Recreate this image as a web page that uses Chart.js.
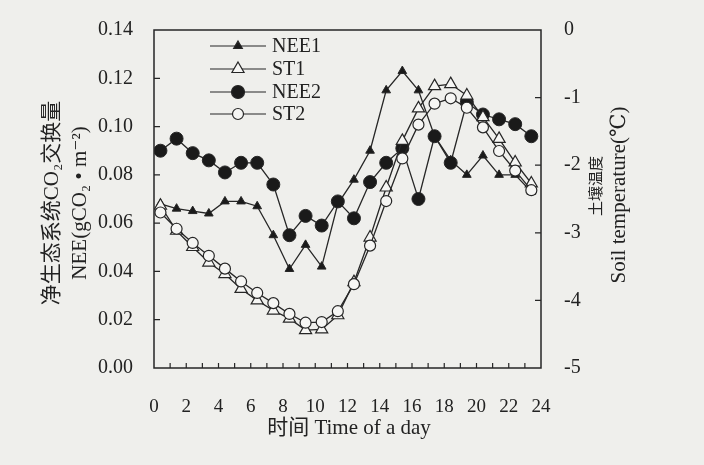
<!DOCTYPE html>
<html>
<head>
<meta charset="utf-8">
<script src="https://cdn.jsdelivr.net/npm/chart.js@4.4.0/dist/chart.umd.min.js"></script>
<style>
  body { margin: 0; background: #efefec; }
  #grafico { display: block; }
</style>
</head>
<body>
<canvas id="grafico" width="704" height="465"></canvas>
<script>
// Horários das medições (meia hora de cada intervalo)
var horas = [0.4, 1.4, 2.4, 3.4, 4.4, 5.4, 6.4, 7.4, 8.4, 9.4, 10.4, 11.4,
  12.4, 13.4, 14.4, 15.4, 16.4, 17.4, 18.4, 19.4, 20.4, 21.4, 22.4, 23.4];

// Séries
var nee1 = [0.068, 0.066, 0.065, 0.064, 0.069, 0.069, 0.067, 0.055, 0.041, 0.051, 0.042, 0.068,
  0.078, 0.090, 0.115, 0.123, 0.115, 0.096, 0.086, 0.080, 0.088, 0.080, 0.080, 0.073];
var st1 = [-2.60, -2.97, -3.21, -3.44, -3.61, -3.83, -4.00, -4.15, -4.27, -4.44, -4.43, -4.22,
  -3.73, -3.07, -2.33, -1.64, -1.16, -0.83, -0.80, -0.97, -1.29, -1.61, -1.96, -2.27];
var nee2 = [0.090, 0.095, 0.089, 0.086, 0.081, 0.085, 0.085, 0.076, 0.055, 0.063, 0.059, 0.069,
  0.062, 0.077, 0.085, 0.091, 0.070, 0.096, 0.085, 0.110, 0.105, 0.103, 0.101, 0.096];
var st2 = [-2.70, -2.94, -3.15, -3.34, -3.53, -3.72, -3.89, -4.04, -4.20, -4.33, -4.32, -4.16,
  -3.76, -3.19, -2.53, -1.90, -1.40, -1.09, -1.01, -1.15, -1.44, -1.79, -2.08, -2.37];

// Rótulos dos eixos
var ticksX = [0, 2, 4, 6, 8, 10, 12, 14, 16, 18, 20, 22, 24];
var ticksNEE = [0, 0.02, 0.04, 0.06, 0.08, 0.10, 0.12, 0.14];
var ticksTemp = [-5, -4, -3, -2, -1, 0];

var corLinha = "#262626";
var corFundo = "#f6f6f4";
var fonteSerif = '"Liberation Serif", "DejaVu Serif", "Noto Sans CJK SC", serif';

// Junta horas e valores em pontos {x, y}
function montarPontos(valores) {
  return horas.map(function (h, i) {
    return { x: h, y: valores[i] };
  });
}

function fixarTicks(lista) {
  return function (scale) {
    scale.ticks = lista.map(function (v) { return { value: v }; });
  };
}

// Legenda da série (usada no plugin)
var legenda = [
  { texto: "NEE1", estilo: "triangle", raio: 5, cor: "#1a1a1a" },
  { texto: "ST1", estilo: "triangle", raio: 7, cor: corFundo },
  { texto: "NEE2", estilo: "circle", raio: 6.5, cor: "#1a1a1a" },
  { texto: "ST2", estilo: "circle", raio: 5.5, cor: corFundo },
];

// Plugin para moldura, marcas internas, títulos e legenda
var pluginMoldura = {
  id: "moldura",
  afterDraw: function (chart) {
    var ctx = chart.ctx;
    var area = chart.chartArea;
    var sx = chart.scales.x;
    var sy = chart.scales.y;
    var sy1 = chart.scales.y1;

    ctx.save();
    ctx.strokeStyle = corLinha;
    ctx.lineWidth = 1.5;
    ctx.strokeRect(area.left, area.top, area.right - area.left, area.bottom - area.top);

    // marcas do eixo x, de hora em hora
    ctx.lineWidth = 1.2;
    ctx.beginPath();
    for (var h = 1; h < 24; h++) {
      var px = sx.getPixelForValue(h);
      ctx.moveTo(px, area.bottom);
      ctx.lineTo(px, area.bottom - 5);
    }
    for (var i = 1; i < ticksNEE.length - 1; i++) {
      var py = sy.getPixelForValue(ticksNEE[i]);
      ctx.moveTo(area.left, py);
      ctx.lineTo(area.left + 6, py);
    }
    for (var j = 1; j < ticksTemp.length - 1; j++) {
      var py1 = sy1.getPixelForValue(ticksTemp[j]);
      ctx.moveTo(area.right, py1);
      ctx.lineTo(area.right - 6, py1);
    }
    ctx.stroke();

    // títulos dos eixos
    ctx.fillStyle = "#222";
    ctx.textAlign = "center";
    ctx.textBaseline = "middle";
    ctx.font = "21px " + fonteSerif;
    ctx.fillText("时间 Time of a day", 349, 428);

    ctx.save();
    ctx.translate(52, 203);
    ctx.rotate(-Math.PI / 2);
    ctx.font = "21px " + fonteSerif;
    ctx.fillText("净生态系统CO₂交换量", 0, 0);
    ctx.restore();

    ctx.save();
    ctx.translate(80, 203);
    ctx.rotate(-Math.PI / 2);
    ctx.font = "21px " + fonteSerif;
    ctx.fillText("NEE(gCO₂ • m⁻²)", 0, 0);
    ctx.restore();

    ctx.save();
    ctx.translate(597, 186);
    ctx.rotate(-Math.PI / 2);
    ctx.font = "15px " + fonteSerif;
    ctx.fillText("土壤温度", 0, 0);
    ctx.restore();

    ctx.save();
    ctx.translate(619, 195);
    ctx.rotate(-Math.PI / 2);
    ctx.font = "21px " + fonteSerif;
    ctx.fillText("Soil temperature(℃)", 0, 0);
    ctx.restore();

    // legenda dentro do gráfico
    var linhaY = [46, 69, 92, 114];
    ctx.textAlign = "left";
    ctx.font = "20px " + fonteSerif;
    legenda.forEach(function (item, k) {
      var y = linhaY[k];
      ctx.strokeStyle = corLinha;
      ctx.lineWidth = 1.2;
      ctx.beginPath();
      ctx.moveTo(210, y);
      ctx.lineTo(266, y);
      ctx.stroke();
      ctx.fillStyle = item.cor;
      ctx.strokeStyle = corLinha;
      Chart.helpers.drawPoint(ctx, {
        pointStyle: item.estilo,
        radius: item.raio,
        rotation: 0,
        borderWidth: 1.2,
      }, 238, y);
      ctx.fillStyle = "#222";
      ctx.fillText(item.texto, 272, y + 1);
    });
    ctx.restore();
  },
};

function criarGrafico() {
  var ctx = document.getElementById("grafico").getContext("2d");
  var grafico = new Chart(ctx, {
    type: "line",
    data: {
      datasets: [
        {
          label: "NEE1",
          data: montarPontos(nee1),
          yAxisID: "y",
          order: 3,
          borderColor: corLinha,
          borderWidth: 1.3,
          pointStyle: "triangle",
          pointRadius: 5,
          pointBackgroundColor: "#1a1a1a",
          pointBorderColor: corLinha,
          pointBorderWidth: 1,
        },
        {
          label: "ST1",
          data: montarPontos(st1),
          yAxisID: "y1",
          order: 1,
          borderColor: corLinha,
          borderWidth: 1.3,
          pointStyle: "triangle",
          pointRadius: 7,
          pointBackgroundColor: corFundo,
          pointBorderColor: corLinha,
          pointBorderWidth: 1.2,
        },
        {
          label: "NEE2",
          data: montarPontos(nee2),
          yAxisID: "y",
          order: 2,
          borderColor: corLinha,
          borderWidth: 1.3,
          pointStyle: "circle",
          pointRadius: 6.5,
          pointBackgroundColor: "#1a1a1a",
          pointBorderColor: corLinha,
          pointBorderWidth: 1,
        },
        {
          label: "ST2",
          data: montarPontos(st2),
          yAxisID: "y1",
          order: 0,
          borderColor: corLinha,
          borderWidth: 1.3,
          pointStyle: "circle",
          pointRadius: 5.5,
          pointBackgroundColor: corFundo,
          pointBorderColor: corLinha,
          pointBorderWidth: 1.2,
        },
      ],
    },
    options: {
      responsive: false,
      animation: false,
      layout: { padding: { top: 30, left: 0, right: 0, bottom: 0 } },
      plugins: {
        legend: { display: false },
        tooltip: { enabled: false },
      },
      elements: { line: { tension: 0 } },
      scales: {
        x: {
          type: "linear",
          min: 0,
          max: 24,
          grid: { display: false },
          border: { display: false },
          afterBuildTicks: fixarTicks(ticksX),
          afterFit: function (scale) { scale.height = 97; },
          ticks: {
            padding: 20,
            color: "#222",
            maxRotation: 0,
            autoSkip: false,
            font: { family: fonteSerif, size: 19 },
          },
        },
        y: {
          position: "left",
          min: 0,
          max: 0.14,
          grid: { display: false },
          border: { display: false },
          afterBuildTicks: fixarTicks(ticksNEE),
          afterFit: function (scale) { scale.width = 154; },
          ticks: {
            padding: 13,
            color: "#222",
            font: { family: fonteSerif, size: 20 },
            callback: function (v) { return v.toFixed(2); },
          },
        },
        y1: {
          position: "right",
          min: -5,
          max: 0,
          grid: { display: false },
          border: { display: false },
          afterBuildTicks: fixarTicks(ticksTemp),
          afterFit: function (scale) { scale.width = 163; },
          ticks: {
            padding: 15,
            color: "#222",
            font: { family: fonteSerif, size: 20 },
            callback: function (v) { return String(v); },
          },
        },
      },
    },
    plugins: [pluginMoldura],
  });
  return grafico;
}

criarGrafico();
</script>
</body>
</html>
